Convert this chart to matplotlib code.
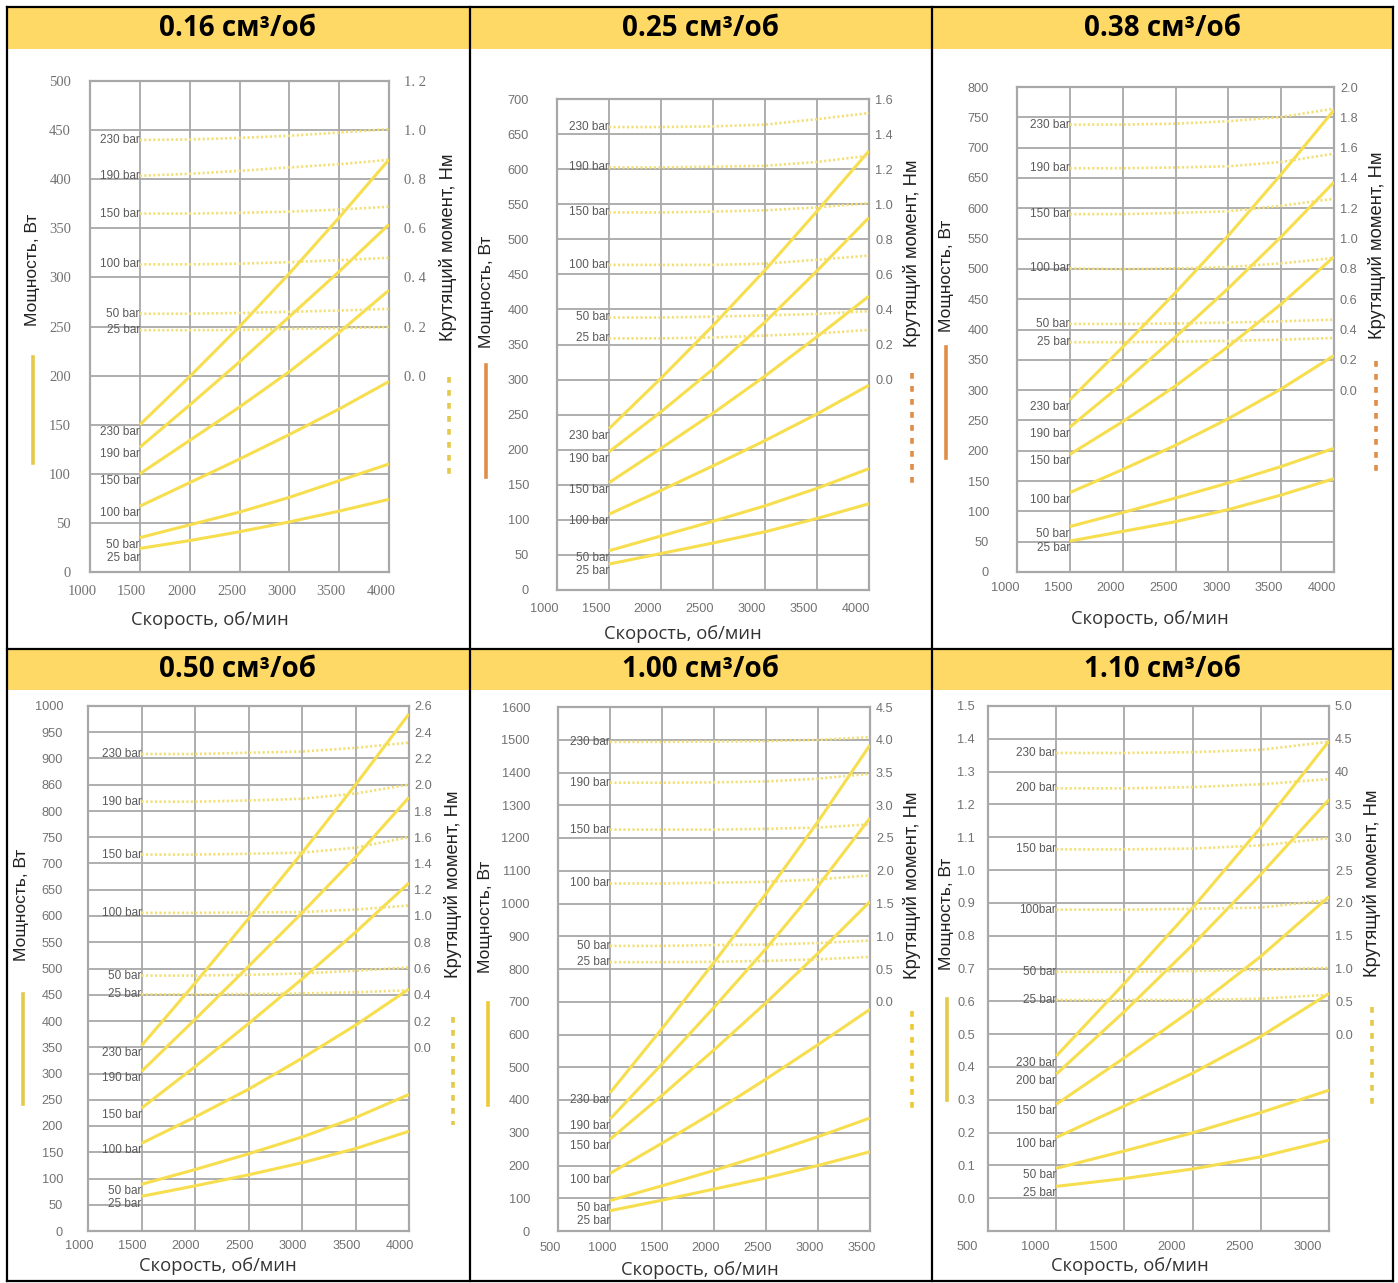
"""Power / torque vs speed charts for six pump displacements (2x3 table)."""

import matplotlib
matplotlib.use("Agg")
import matplotlib.pyplot as plt
from matplotlib.lines import Line2D
from matplotlib.patches import Rectangle
from matplotlib.transforms import ScaledTranslation

# ── Data ────────────────────────────────────────────────────────────────
TITLES = ["0.16 см³/об", "0.25 см³/об", "0.38 см³/об",
          "0.50 см³/об", "1.00 см³/об", "1.10 см³/об"]

RPM_A = [1500, 2000, 2500, 3000, 3500, 4000]     # 0.16 / 0.25 / 0.38 / 0.50
RPM_100 = [1000, 1500, 2000, 2500, 3000, 3500]
RPM_110 = [1000, 1500, 2000, 2500, 3000]

BARS = ["230 bar", "190 bar", "150 bar", "100 bar", "50 bar", "25 bar"]
BARS_110_T = ["230 bar", "200 bar", "150 bar", "100bar", "50 bar", "25 bar"]
BARS_110_P = ["230 bar", "200 bar", "150 bar", "100 bar", "50 bar", "25 bar"]

# power, W (rows follow BARS)
POWER_016 = [[150, 199, 250, 304, 361, 420], [127, 170, 214, 260, 306, 354],
             [100, 134, 168, 204, 244, 287], [67, 91, 115, 140, 166, 194],
             [35, 48, 61, 76, 93, 110], [24, 32, 41, 51, 62, 74]]
POWER_025 = [[230, 302, 377, 456, 540, 626], [197, 254, 315, 382, 455, 531],
             [153, 202, 252, 305, 361, 419], [108, 142, 177, 213, 251, 292],
             [56, 77, 98, 120, 145, 173], [37, 52, 67, 83, 102, 123]]
POWER_038 = [[284, 371, 461, 555, 656, 762], [239, 311, 388, 468, 553, 643],
             [194, 248, 307, 372, 442, 520], [131, 169, 209, 253, 302, 357],
             [75, 98, 122, 147, 174, 204], [51, 67, 83, 103, 127, 154]]
POWER_050 = [[353, 472, 595, 720, 850, 985], [304, 403, 504, 606, 712, 826],
             [234, 313, 395, 480, 569, 663], [167, 217, 270, 329, 392, 461],
             [89, 117, 147, 179, 216, 260], [66, 86, 107, 130, 157, 190]]
POWER_100 = [[422, 618, 820, 1030, 1250, 1484], [342, 510, 683, 862, 1053, 1261],
             [280, 414, 553, 697, 848, 1006], [176, 268, 363, 464, 569, 677],
             [93, 138, 185, 235, 288, 345], [62, 94, 128, 162, 200, 242]]
POWER_110 = [[0.433, 0.655, 0.885, 1.130, 1.393], [0.378, 0.569, 0.772, 0.987, 1.215],
             [0.286, 0.428, 0.575, 0.737, 0.919], [0.185, 0.281, 0.381, 0.493, 0.624],
             [0.091, 0.144, 0.199, 0.261, 0.329], [0.036, 0.060, 0.089, 0.126, 0.177]]

# torque, Nm
TORQUE_016 = [[0.960, 0.962, 0.968, 0.977, 0.990, 1.004],
              [0.814, 0.822, 0.834, 0.848, 0.861, 0.879],
              [0.660, 0.660, 0.663, 0.668, 0.676, 0.688],
              [0.453, 0.453, 0.456, 0.462, 0.470, 0.480],
              [0.252, 0.252, 0.255, 0.260, 0.265, 0.272],
              [0.185, 0.185, 0.186, 0.190, 0.193, 0.198]]
TORQUE_025 = [[1.440, 1.440, 1.444, 1.454, 1.485, 1.520],
              [1.210, 1.210, 1.214, 1.219, 1.241, 1.277],
              [0.953, 0.953, 0.958, 0.965, 0.982, 1.006],
              [0.654, 0.654, 0.654, 0.661, 0.683, 0.707],
              [0.354, 0.354, 0.359, 0.366, 0.374, 0.390],
              [0.235, 0.235, 0.240, 0.251, 0.263, 0.283]]
TORQUE_038 = [[1.752, 1.752, 1.758, 1.774, 1.802, 1.857],
              [1.464, 1.464, 1.469, 1.477, 1.505, 1.560],
              [1.161, 1.161, 1.169, 1.180, 1.216, 1.263],
              [0.803, 0.798, 0.803, 0.812, 0.836, 0.872],
              [0.437, 0.437, 0.440, 0.446, 0.454, 0.465],
              [0.316, 0.316, 0.319, 0.325, 0.333, 0.344]]
TORQUE_050 = [[2.234, 2.234, 2.244, 2.253, 2.281, 2.321],
              [1.871, 1.871, 1.880, 1.893, 1.933, 2.001],
              [1.468, 1.468, 1.474, 1.483, 1.520, 1.601],
              [1.024, 1.024, 1.027, 1.030, 1.049, 1.080],
              [0.546, 0.546, 0.552, 0.562, 0.583, 0.608],
              [0.403, 0.403, 0.406, 0.410, 0.419, 0.434]]
TORQUE_100 = [[3.967, 3.967, 3.973, 3.979, 3.998, 4.041],
              [3.344, 3.344, 3.350, 3.363, 3.406, 3.481],
              [2.628, 2.628, 2.628, 2.640, 2.659, 2.709],
              [1.806, 1.806, 1.818, 1.831, 1.868, 1.930],
              [0.853, 0.853, 0.866, 0.872, 0.897, 0.934],
              [0.604, 0.604, 0.610, 0.623, 0.648, 0.685]]
TORQUE_110 = [[4.284, 4.284, 4.296, 4.333, 4.455],
              [3.745, 3.745, 3.764, 3.807, 3.886],
              [2.815, 2.815, 2.827, 2.876, 2.987],
              [1.897, 1.897, 1.909, 1.928, 2.044],
              [0.949, 0.949, 0.961, 0.979, 1.010],
              [0.520, 0.520, 0.520, 0.539, 0.600]]

# tick labels that are not plain numbers in the original
RIGHT_LABELS_016 = ["0. 0", "0. 2", "0. 4", "0. 6", "0. 8", "1. 0", "1. 2"]
LEFT_LABELS_050 = ["0", "50", "100", "150", "200", "250", "300", "350", "400",
                   "450", "500", "550", "600", "650", "700", "750", "800",
                   "860", "900", "950", "1000"]
RIGHT_LABELS_110 = ["0.0", "0.5", "1.0", "1.5", "2.0", "2.5", "3.0", "3.5",
                    "40", "4.5", "5.0"]

# ── Style ───────────────────────────────────────────────────────────────
W, H = 1398, 1283
HEADER = "#FFD966"
GRID = "#a8a8a8"
TICK = "#727272"
BARTXT = "#5a5a5a"
C_POWER = "#F7DE4E"
C_TORQUE = "#F3DF74"
C_GOLD = "#E4C94B"
C_ORANGE = "#E08D48"
SANS = ["Liberation Sans", "DejaVu Sans"]
OPEN = ["Open Sans", "DejaVu Sans"]


def fx(x):
    return x / W


def fy(y):
    return 1 - y / H


def panel_specs():
    ticks_w = lambda top, step: list(range(0, top + 1, step))
    return [
        dict(rpm=RPM_A, power=POWER_016, torque=TORQUE_016, p_names=BARS, t_names=BARS,
             xlim=(1000, 4000), ylim=(0, 500), yt=ticks_w(500, 50), ylab=None,
             tlim=(-0.8, 1.2), tt=[0, .2, .4, .6, .8, 1.0, 1.2], tlab=RIGHT_LABELS_016,
             rect=(90, 81, 389, 572), serif=True, pads=(19, 15, 13), dx=-8,
             yl=(33, 270), tl=(448, 247), xl=(210, 620),
             mark=C_GOLD, solid=(33, 357, 463), dotted=(449, 377, 481)),
        dict(rpm=RPM_A, power=POWER_025, torque=TORQUE_025, p_names=BARS, t_names=BARS,
             xlim=(1000, 4000), ylim=(0, 700), yt=ticks_w(700, 50), ylab=None,
             tlim=(-1.2, 1.6), tt=[0, .2, .4, .6, .8, 1.0, 1.2, 1.4, 1.6], tlab=None,
             rect=(557, 99, 869, 590), serif=False, pads=(28, 6, 13), dx=-13,
             yl=(487, 292), tl=(912, 253), xl=(683, 634),
             mark=C_ORANGE, solid=(486, 365, 477), dotted=(912, 373, 483)),
        dict(rpm=RPM_A, power=POWER_038, torque=TORQUE_038, p_names=BARS, t_names=BARS,
             xlim=(1000, 4000), ylim=(0, 800), yt=ticks_w(800, 50), ylab=None,
             tlim=(-1.2, 2.0), tt=[0, .2, .4, .6, .8, 1.0, 1.2, 1.4, 1.6, 1.8, 2.0],
             tlab=None, rect=(1017, 87, 1334, 572), serif=False,
             pads=(28, 6, 10), dx=-12, yl=(946, 276), tl=(1377, 245), xl=(1150, 619),
             mark=C_ORANGE, solid=(946, 347, 458), dotted=(1376, 361, 471)),
        dict(rpm=RPM_A, power=POWER_050, torque=TORQUE_050, p_names=BARS, t_names=BARS,
             xlim=(1000, 4000), ylim=(0, 1000), yt=ticks_w(1000, 50), ylab=LEFT_LABELS_050,
             tlim=(-1.4, 2.6), tt=[0, .2, .4, .6, .8, 1.0, 1.2, 1.4, 1.6, 1.8, 2.0, 2.2,
                                  2.4, 2.6],
             tlab=None, rect=(88, 706, 409, 1231), serif=False,
             pads=(25, 5, 9), dx=-9, yl=(22, 905), tl=(453, 884), xl=(218, 1266),
             mark=C_GOLD, solid=(23, 994, 1104), dotted=(453, 1017, 1125)),
        dict(rpm=RPM_100, power=POWER_100, torque=TORQUE_100, p_names=BARS, t_names=BARS,
             xlim=(500, 3500), ylim=(0, 1600), yt=ticks_w(1600, 100), ylab=None,
             tlim=(-3.5, 4.5), tt=[0, .5, 1.0, 1.5, 2.0, 2.5, 3.0, 3.5, 4.0, 4.5],
             tlab=None, rect=(558, 707, 870, 1231), serif=False,
             pads=(28, 6, 11), dx=-8, yl=(486, 917), tl=(912, 885), xl=(700, 1270),
             mark="#EEC934", solid=(488, 1003, 1105), dotted=(912, 1011, 1113)),
        dict(rpm=RPM_110, power=POWER_110, torque=TORQUE_110, p_names=BARS_110_P,
             t_names=BARS_110_T, xlim=(500, 3000), ylim=(-0.1, 1.5),
             yt=[round(0.1 * i, 1) for i in range(16)], ylab=None,
             tlim=(-3.0, 5.0), tt=[0, .5, 1.0, 1.5, 2.0, 2.5, 3.0, 3.5, 4.0, 4.5, 5.0],
             tlab=RIGHT_LABELS_110, rect=(988, 706, 1329, 1231),
             serif=False, pads=(13, 6, 10), dx=-21, yl=(946, 914), tl=(1372, 883),
             xl=(1130, 1266), mark=C_GOLD, solid=(947, 999, 1100),
             dotted=(1372, 1007, 1108)),
    ]


def draw_table(fig):
    for y0, y1 in [(8, 49), (650, 690)]:
        fig.add_artist(Rectangle((fx(7), fy(y1)), fx(1393) - fx(7), fy(y0) - fy(y1),
                                 transform=fig.transFigure, color=HEADER, lw=0,
                                 zorder=0))
    for x in [7, 470, 932, 1393]:
        fig.add_artist(Line2D([fx(x), fx(x)], [fy(7), fy(1281)], color="black",
                              lw=1.6, transform=fig.transFigure, zorder=5))
    for y in [7, 649, 1281]:
        fig.add_artist(Line2D([fx(7), fx(1393)], [fy(y), fy(y)], color="black",
                              lw=1.6, transform=fig.transFigure, zorder=5))
    centers = [238, 701, 1162]
    for i, title in enumerate(TITLES):
        cy = 28 if i < 3 else 670
        fig.text(fx(centers[i % 3]), fy(cy), title, ha="center", va="center",
                 fontsize=20, fontweight="bold", family=OPEN, color="black")


def draw_panel(fig, sp):
    l, t, r, b = sp["rect"]
    ax = fig.add_axes([fx(l), fy(b), fx(r) - fx(l), fy(t) - fy(b)])
    ax.set_facecolor("white")
    ax.set_xlim(*sp["xlim"])
    ax.set_ylim(*sp["ylim"])
    xt = list(range(sp["xlim"][0], sp["xlim"][1] + 1, 500))
    ax.set_xticks(xt)
    ax.set_xticklabels([str(v) for v in xt])
    ax.set_yticks(sp["yt"])
    if sp["ylab"] is not None:
        ax.set_yticklabels(sp["ylab"])
    elif isinstance(sp["yt"][0], float):
        ax.set_yticklabels([f"{v:.1f}" for v in sp["yt"]])
    else:
        ax.set_yticklabels([str(v) for v in sp["yt"]])

    ax.grid(True, color=GRID, lw=1.3, zorder=0)
    ax.set_axisbelow(True)
    for s in ax.spines.values():
        s.set_color(GRID)
        s.set_linewidth(1.6)

    if sp["serif"]:
        tfam, tsize = ["Liberation Serif", "DejaVu Serif"], 10.5
    else:
        tfam, tsize = SANS, 9.2
    pl, pr, pb = sp["pads"]
    ax.tick_params(axis="y", length=0, pad=pl * 0.72, labelcolor=TICK)
    ax.tick_params(axis="x", length=0, pad=pb * 0.72, labelcolor=TICK)
    for lbl in ax.get_xticklabels() + ax.get_yticklabels():
        lbl.set_fontfamily(tfam)
        lbl.set_fontsize(tsize)
    shift = ScaledTranslation(sp["dx"] / 100, 0, fig.dpi_scale_trans)
    for lbl in ax.get_xticklabels():
        lbl.set_transform(lbl.get_transform() + shift)

    tx = ax.twinx()
    tx.set_ylim(*sp["tlim"])
    tx.set_yticks(sp["tt"])
    tx.set_yticklabels(sp["tlab"] if sp["tlab"] is not None
                       else [f"{v:.1f}" for v in sp["tt"]])
    for s in tx.spines.values():
        s.set_visible(False)
    tx.tick_params(axis="y", length=0, pad=pr * 0.72, labelcolor=TICK)
    for lbl in tx.get_yticklabels():
        lbl.set_fontfamily(tfam)
        lbl.set_fontsize(tsize)

    rpm = sp["rpm"]
    x0 = rpm[0]
    # power curves (solid)
    for vals in sp["power"]:
        ax.plot(rpm, vals, color=C_POWER, lw=2.2, solid_capstyle="butt",
                solid_joinstyle="round", zorder=3)
    # torque curves (dotted)
    for vals in sp["torque"]:
        tx.plot(rpm, vals, color=C_TORQUE, lw=1.9, ls=(0, (0.8, 0.9)), zorder=3)

    # torque labels
    for name, vals in zip(sp["t_names"], sp["torque"]):
        tx.text(x0, vals[0], name, ha="right", va="center", fontsize=8.5,
                family=SANS, color=BARTXT, zorder=4)

    # power labels, pushed slightly below line starts and spread apart
    ys = [ax.transData.transform((x0, v[0]))[1] - 7 for v in sp["power"]]
    for i in range(1, len(ys)):
        ys[i] = min(ys[i], ys[i - 1] - 13)
    inv = ax.transData.inverted()
    xd = ax.transData.transform((x0, 0))[0]
    for name, yd in zip(sp["p_names"], ys):
        ax.text(*inv.transform((xd, yd)), name, ha="right", va="center",
                fontsize=8.5, family=SANS, color=BARTXT, zorder=4)

    # axis titles
    fig.text(fx(sp["yl"][0]), fy(sp["yl"][1]), "Мощность, Вт", rotation=90,
             ha="center", va="center", fontsize=12.5, family=SANS, color="#222222")
    fig.text(fx(sp["tl"][0]), fy(sp["tl"][1]), "Крутящий момент, Нм", rotation=90,
             ha="center", va="center", fontsize=13.2, family=SANS, color="#222222")
    fig.text(fx(sp["xl"][0]), fy(sp["xl"][1]), "Скорость, об/мин", ha="center",
             va="center", fontsize=13.2, family=OPEN, color="#333333")

    # line-style keys beside the axes
    x, y0, y1 = sp["solid"]
    fig.add_artist(Line2D([fx(x), fx(x)], [fy(y0), fy(y1)], color=sp["mark"], lw=2.6,
                          transform=fig.transFigure))
    x, y0, y1 = sp["dotted"]
    fig.add_artist(Line2D([fx(x), fx(x)], [fy(y0), fy(y1)], color=sp["mark"], lw=2.6,
                          ls=(0, (1.6, 2.0)), transform=fig.transFigure))


def main():
    fig = plt.figure(figsize=(W / 100, H / 100), dpi=100)
    fig.patch.set_facecolor("white")
    draw_table(fig)
    for sp in panel_specs():
        draw_panel(fig, sp)
    fig.savefig("out.png", dpi=100)


if __name__ == "__main__":
    main()
